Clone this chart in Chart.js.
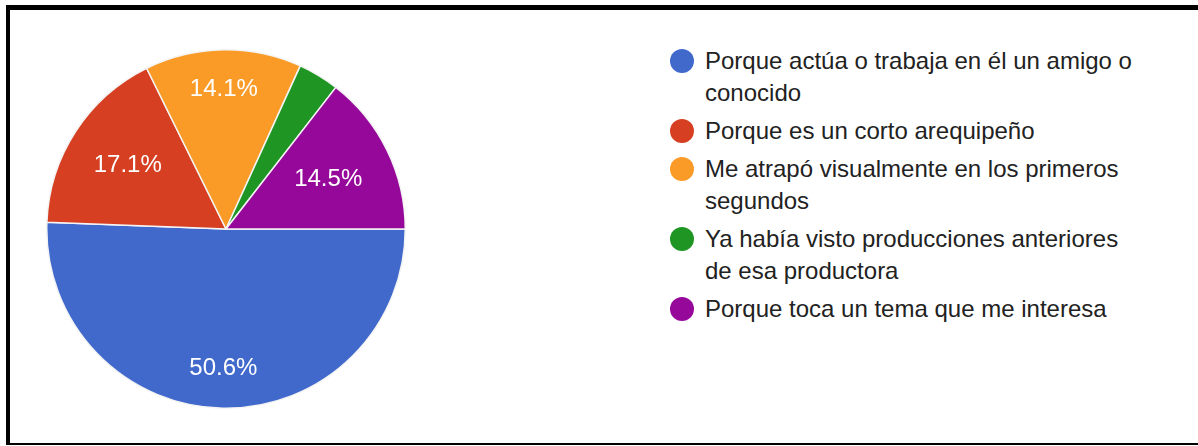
<!DOCTYPE html>
<html>
<head>
<meta charset="utf-8">
<script src="https://cdn.jsdelivr.net/npm/chart.js@4.4.1/dist/chart.umd.min.js"></script>
<style>
  html, body { margin: 0; padding: 0; background: #fff; }
  body { width: 1198px; height: 446px; position: relative; overflow: hidden; font-family: Arial, "Liberation Sans", sans-serif; }
  .frame-top { position: absolute; left: 6px; top: 5px; width: 1192px; height: 5px; background: #000; }
  .frame-left { position: absolute; left: 6px; top: 5px; width: 4px; height: 440px; background: #000; }
  .frame-bottom { position: absolute; left: 6px; top: 443px; width: 1192px; height: 2px; background: #000; }
  #pieBox { position: absolute; left: 46px; top: 49px; width: 360px; height: 360px; }
  #legend { position: absolute; left: 670px; top: 45px; width: 460px; margin: 0; padding: 0; list-style: none; }
  #legend li { position: relative; padding-left: 35px; margin-bottom: 6px; font-size: 24px; line-height: 32px; color: #222; width: 436px; }
  #legend li span { position: absolute; left: 0; top: 4px; width: 24px; height: 24px; border-radius: 50%; }
</style>
</head>
<body>
<div class="frame-top"></div>
<div class="frame-left"></div>
<div class="frame-bottom"></div>
<div id="pieBox"><canvas id="pieChart"></canvas></div>
<ul id="legend"></ul>
<script>
const categories = [
  'Porque actúa o trabaja en él un amigo o conocido',
  'Porque es un corto arequipeño',
  'Me atrapó visualmente en los primeros segundos',
  'Ya había visto producciones anteriores de esa productora',
  'Porque toca un tema que me interesa'
];
const percentages = [50.6, 17.1, 14.1, 3.7, 14.5];
const sliceColors = ['#4169cc', '#d63f22', '#fb9b27', '#1f9524', '#96089a'];

// etiquetas de porcentaje dentro de cada sector
const sliceLabels = {
  id: 'sliceLabels',
  afterDatasetsDraw(chart) {
    const ctx = chart.ctx;
    const meta = chart.getDatasetMeta(0);
    ctx.save();
    ctx.fillStyle = '#ffffff';
    ctx.font = '24px Arial, "Liberation Sans", sans-serif';
    ctx.textAlign = 'center';
    ctx.textBaseline = 'middle';
    meta.data.forEach((arc, i) => {
      const v = percentages[i];
      if (v < 5) return;
      const p = arc.getProps(['x', 'y', 'startAngle', 'endAngle', 'outerRadius'], true);
      const mid = (p.startAngle + p.endAngle) / 2;
      const c = Math.cos(mid);
      const r = p.outerRadius * (0.78 - 0.18 * c * c);
      ctx.fillText(v.toFixed(1) + '%', p.x + r * Math.cos(mid), p.y + r * Math.sin(mid));
    });
    ctx.restore();
  }
};

new Chart(document.getElementById('pieChart'), {
  type: 'pie',
  data: {
    labels: categories,
    datasets: [{
      data: percentages,
      backgroundColor: sliceColors,
      borderColor: '#f4f4f4',
      borderWidth: 1.5
    }]
  },
  options: {
    responsive: true,
    maintainAspectRatio: false,
    animation: false,
    rotation: 90,
    plugins: {
      legend: { display: false },
      tooltip: { enabled: false }
    }
  },
  plugins: [sliceLabels]
});

const legend = document.getElementById('legend');
categories.forEach((name, i) => {
  const li = document.createElement('li');
  const dot = document.createElement('span');
  dot.style.background = sliceColors[i];
  li.appendChild(dot);
  li.appendChild(document.createTextNode(name));
  legend.appendChild(li);
});
</script>
</body>
</html>
